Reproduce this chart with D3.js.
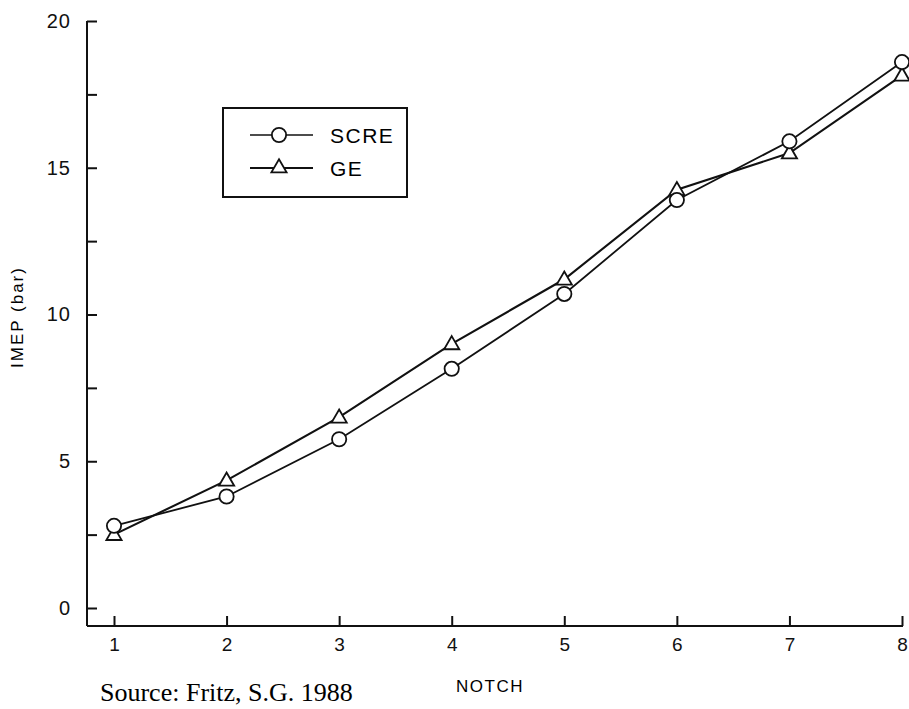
<!DOCTYPE html>
<meta charset="utf-8">
<title>IMEP vs Notch</title>
<style>
body { margin: 0; background: #fff; }
svg { font-family: "Liberation Sans", Arial, sans-serif; }
.axis path, .axis line { stroke: #111; stroke-width: 2; }
.axis text { fill: #111; }
</style>
<body>
<svg width="909" height="709"></svg>
<script src="https://d3js.org/d3.v7.min.js"></script>
<script>

// data
var notch = [1, 2, 3, 4, 5, 6, 7, 8];
var scre = [2.8, 3.8, 5.75, 8.15, 10.7, 13.9, 15.9, 18.6];
var ge = [2.5, 4.35, 6.5, 9.0, 11.2, 14.25, 15.5, 18.15];
var yTicks = [0, 2.5, 5, 7.5, 10, 12.5, 15, 17.5, 20];
var seriesNames = ["SCRE", "GE"];

var svg = d3.select("svg");

var x = d3.scaleLinear().domain([1, 8]).range([114, 902]);
var y = d3.scaleLinear().domain([0, 20]).range([608, 21]);
var axisX = 87, axisY = 626;

// y axis, ticks pointing inward
var gy = svg.append("g")
    .attr("class", "axis")
    .attr("transform", "translate(" + axisX + ",0)")
    .call(d3.axisLeft(y)
      .tickValues(yTicks)
      .tickSizeInner(-10)
      .tickSizeOuter(0)
      .tickPadding(16)
      .tickFormat(function(d) { return d % 5 === 0 ? d : ""; }));
gy.select(".domain").remove();
gy.selectAll("text").attr("font-size", 20).attr("letter-spacing", 1);
gy.append("line")
    .attr("x1", 0).attr("x2", 0)
    .attr("y1", y(20)).attr("y2", axisY);

// x axis, ticks pointing up
var gx = svg.append("g")
    .attr("class", "axis")
    .attr("transform", "translate(0," + axisY + ")")
    .call(d3.axisBottom(x)
      .tickValues(notch)
      .tickSizeInner(-10)
      .tickSizeOuter(0)
      .tickPadding(12)
      .tickFormat(d3.format("d")));
gx.select(".domain").remove();
gx.selectAll("text").attr("font-size", 19);
gx.append("line")
    .attr("x1", axisX).attr("x2", x(8) + 1)
    .attr("y1", 0).attr("y2", 0);

// axis titles
svg.append("text")
    .attr("transform", "translate(23,317) rotate(-90)")
    .attr("text-anchor", "middle")
    .attr("font-size", 17)
    .attr("letter-spacing", 2)
    .text("IMEP (bar)");

svg.append("text")
    .attr("x", 490).attr("y", 692)
    .attr("text-anchor", "middle")
    .attr("font-size", 17)
    .attr("letter-spacing", 1.5)
    .text("NOTCH");

svg.append("text")
    .attr("x", 100).attr("y", 701)
    .attr("font-family", "'Liberation Serif', 'Times New Roman', serif")
    .attr("font-size", 26)
    .text("Source: Fritz, S.G. 1988");

// lines
var line = d3.line()
    .x(function(d, i) { return x(notch[i]); })
    .y(function(d) { return y(d); });

svg.append("path").datum(scre)
    .attr("d", line)
    .attr("fill", "none").attr("stroke", "#111").attr("stroke-width", 1.8);
svg.append("path").datum(ge)
    .attr("d", line)
    .attr("fill", "none").attr("stroke", "#111").attr("stroke-width", 2.1);

var circle = d3.symbol().type(d3.symbolCircle).size(160);
var tri = d3.symbol().type(d3.symbolTriangle).size(100);

svg.append("g").selectAll("path")
    .data(ge).enter().append("path")
    .attr("d", tri)
    .attr("transform", function(d, i) { return "translate(" + x(notch[i]) + "," + (y(d) + 1) + ")"; })
    .attr("fill", "#fff").attr("stroke", "#111").attr("stroke-width", 1.8);

svg.append("g").selectAll("path")
    .data(scre).enter().append("path")
    .attr("d", circle)
    .attr("transform", function(d, i) { return "translate(" + x(notch[i]) + "," + y(d) + ")"; })
    .attr("fill", "#fff").attr("stroke", "#111").attr("stroke-width", 1.8);

// legend
var legend = svg.append("g").attr("transform", "translate(223,108)");
legend.append("rect")
    .attr("width", 184).attr("height", 89)
    .attr("fill", "none").attr("stroke", "#111").attr("stroke-width", 2);

var item = legend.selectAll("g.item")
    .data(seriesNames).enter().append("g")
    .attr("class", "item")
    .attr("transform", function(d, i) { return "translate(0," + (27 + i * 33) + ")"; });

item.append("line")
    .attr("x1", 27).attr("x2", 90)
    .attr("stroke", "#111")
    .attr("stroke-width", function(d, i) { return i === 0 ? 1.3 : 2; });

item.append("path")
    .attr("d", function(d, i) { return i === 0 ? circle() : tri(); })
    .attr("transform", "translate(56,0)")
    .attr("fill", "#fff").attr("stroke", "#111").attr("stroke-width", 1.8);

item.append("text")
    .attr("x", 107).attr("y", 8)
    .attr("font-size", 21)
    .attr("letter-spacing", 1.5)
    .text(function(d) { return d; });

</script>
</body>
